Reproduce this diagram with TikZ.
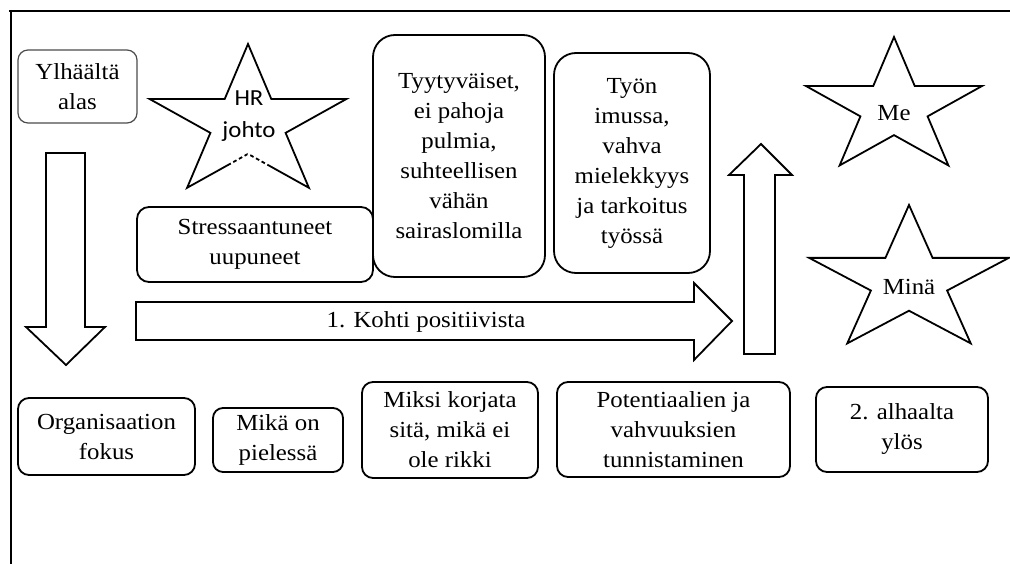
\documentclass[tikz,border=0pt]{standalone}
\usepackage{fontspec}
\setmainfont{Liberation Serif}[FakeStretch=1.08]
\newfontfamily\hrfont{Carlito}[FakeStretch=1.08]
\usetikzlibrary{calc}

% five-pointed star: name, centre x, centre y, half width, height scale
\newcommand{\starshape}[5]{%
  \draw[starline] (#2,{#3-#5})
    -- ({#2+0.2245*#4},{#3-0.309*#5})
    -- ({#2+0.951*#4},{#3-0.309*#5})
    -- ({#2+0.363*#4},{#3+0.118*#5})
    -- ({#2+0.588*#4},{#3+0.809*#5}) coordinate (#1-br)
    -- ({#2},{#3+0.382*#5}) coordinate (#1-ib)
    -- ({#2-0.588*#4},{#3+0.809*#5}) coordinate (#1-bl)
    -- ({#2-0.363*#4},{#3+0.118*#5})
    -- ({#2-0.951*#4},{#3-0.309*#5})
    -- ({#2-0.2245*#4},{#3-0.309*#5})
    -- cycle;}

\tikzset{
  txt/.style={font=\fontsize{23}{30}\selectfont, text=black, align=center, inner sep=0pt},
  box/.style={txt, draw, line width=1.8pt, rounded corners=11pt},
  thinbox/.style={txt, draw=black!70, line width=1.2pt, rounded corners=10pt},
  starline/.style={draw, line width=1.8pt, line join=miter, fill=white},
  arrowline/.style={draw, line width=1.8pt, line join=miter, fill=white},
  frame/.style={line width=2.5pt}
}

\begin{document}
\begin{tikzpicture}[x=1pt,y=-1pt]
\useasboundingbox (0,0) rectangle (1010,564);

% frame (top and left edges)
\draw[frame] (9,11) -- (1010,11);
\draw[frame] (11,10) -- (11,564);

% top-down label and arrow
\node[thinbox, minimum width=119pt, minimum height=73pt] (top) at (77.5,86.5) {Ylhäältä\\alas};
\draw[arrowline] (46,153) -- (85,153) -- (85,327) -- (105,327) -- (66,365) -- (26,327) -- (46,327) -- cycle;

% stars
\starshape{hr}{248}{123.5}{103.6}{79.5}
\draw[white, line width=3pt, dash pattern=on 2.5pt off 4pt]
  ($(hr-ib)!0.28!(hr-bl)$) -- (hr-ib) -- ($(hr-ib)!0.32!(hr-br)$);
\node[txt, font=\hrfont\fontsize{23}{32}\selectfont] (hrt) at (249,116) {HR\\johto};

\starshape{me}{894}{108}{92.5}{71}
\node[txt] (met) at (894,113) {Me};

\starshape{mina}{909}{281.5}{105}{76.5}
\node[txt] (minat) at (909,287) {Minä};

% upper boxes
\node[box, rounded corners=12pt, minimum width=236pt, minimum height=75pt] (stress) at (255,244.5) {Stressaantuneet\\uupuneet};
\node[box, rounded corners=22pt, minimum width=172pt, minimum height=242pt] (tyyt) at (459,156) {Tyytyväiset,\\ei pahoja\\pulmia,\\suhteellisen\\vähän\\sairaslomilla};
\node[box, rounded corners=22pt, minimum width=156pt, minimum height=220pt] (tyon) at (632,163) {Työn\\imussa,\\vahva\\mielekkyys\\ja tarkoitus\\työssä};

% horizontal arrow
\draw[arrowline] (136,302) -- (694,302) -- (694,283) -- (732,321) -- (694,360) -- (694,340) -- (136,340) -- cycle;
\node[txt] (kohti) at (426,322) {1. Kohti positiivista};

% upward arrow
\draw[arrowline] (744,354) -- (744,175) -- (729,175) -- (761,144) -- (792,175) -- (775,175) -- (775,354) -- cycle;

% bottom row
\node[box, minimum width=177pt, minimum height=77pt] (org) at (106.5,436.5) {Organisaation\\fokus};
\node[box, rounded corners=10pt, minimum width=130pt, minimum height=64pt] (mika) at (278,440) {Mikä on\\pielessä};
\node[box, minimum width=176pt, minimum height=96pt] (miksi) at (450,430) {Miksi korjata\\sitä, mikä ei\\ole rikki};
\node[box, minimum width=233pt, minimum height=95pt] (pot) at (673.5,429.5) {Potentiaalien ja\\vahvuuksien\\tunnistaminen};
\node[box, minimum width=172pt, minimum height=85pt] (alh) at (902,429.5) {2. alhaalta\\ylös};
\end{tikzpicture}
\end{document}
